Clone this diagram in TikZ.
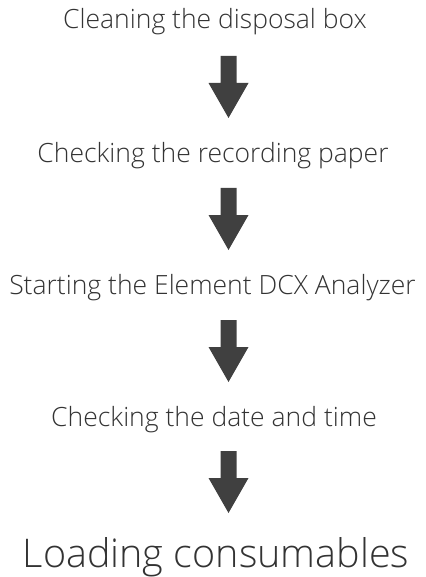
\documentclass[tikz,border=0pt]{standalone}
\usepackage{fontspec}
\setmainfont{Open Sans}[UprightFont={* Light}]
\begin{document}
\begin{tikzpicture}[x=1pt,y=1pt,
  steplabel/.style={anchor=base,inner sep=0pt,text=textgray,font=\fontsize{26.5}{30}\selectfont},
  finallabel/.style={anchor=base,inner sep=0pt,text=textgray,font=\fontsize{39.5}{46}\selectfont},
  blockarrow/.pic={\fill[arrowgray] (-8,0) -- (8,0) -- (8,-27) -- (20,-27) -- (0,-62) -- (-20,-27) -- (-8,-27) -- cycle;}]
\definecolor{textgray}{HTML}{333333}
\definecolor{arrowgray}{HTML}{404040}
\useasboundingbox (0,0) rectangle (425,-577);
% process steps
\node[steplabel] (s1) at (215,-29) {Cleaning the disposal box};
\node[steplabel] (s2) at (213,-163) {Checking the recording paper};
\node[steplabel] (s3) at (212.5,-294) {Starting the Element DCX Analyzer};
\node[steplabel] (s4) at (214,-426) {Checking the date and time};
\node[finallabel] (s5) at (216,-567) {Loading consumables};
% block arrows between the steps
\pic (a1) at (228.5,-56) {blockarrow};
\pic (a2) at (228.5,-188) {blockarrow};
\pic (a3) at (228.5,-320) {blockarrow};
\pic (a4) at (228.5,-451) {blockarrow};
\end{tikzpicture}
\end{document}
